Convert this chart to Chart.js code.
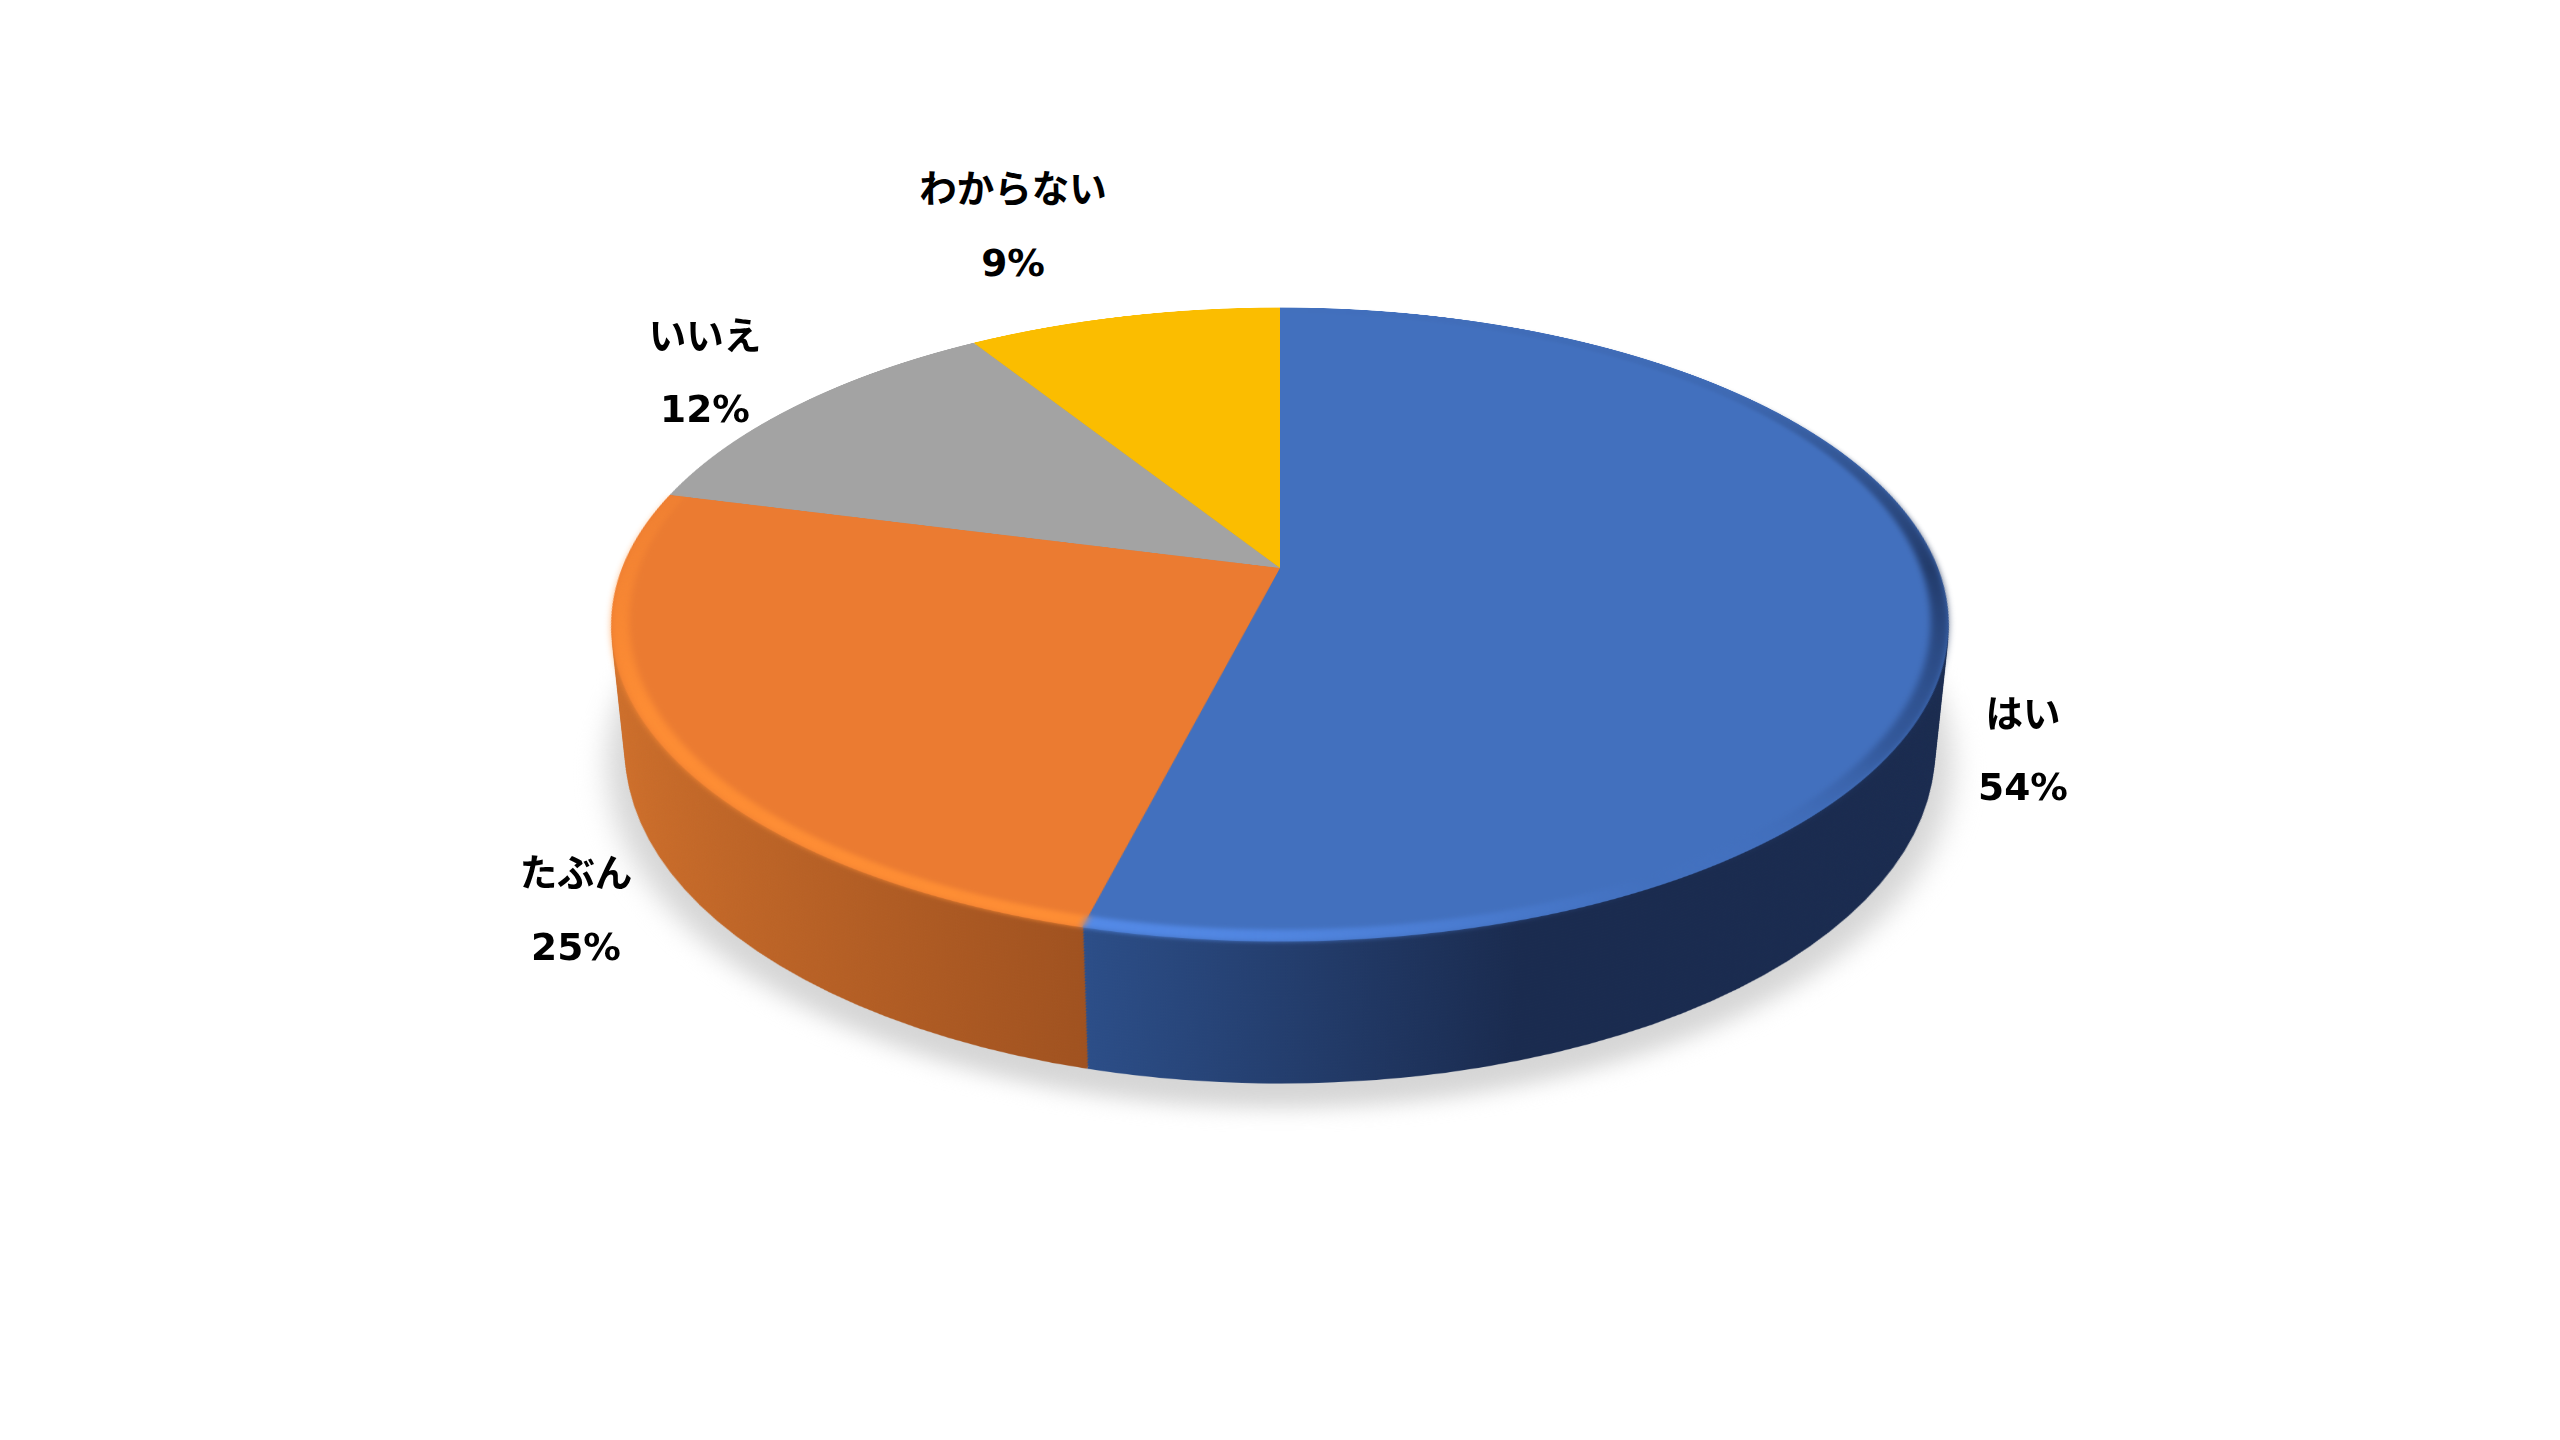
<!DOCTYPE html>
<html lang="ja">
<head>
<meta charset="utf-8">
<title>円グラフ</title>
<script src="https://cdn.jsdelivr.net/npm/chart.js@4"></script>
<style>
  html, body { margin: 0; background: #fff; }
  #stage { position: relative; width: 2560px; height: 1440px; overflow: hidden; background: #fff; }
  #stage canvas { position: absolute; left: 580px; top: -132px; transform-origin: 700px 700px; }
  .lbl { position: absolute; transform: translate(-50%, -50%); line-height: 1; white-space: nowrap;
         font: bold 37.5px "DejaVu Sans", "Noto Sans CJK JP", sans-serif; color: #000; }
</style>
</head>
<body>
<div id="stage"></div>
<script>
// datos
const categorias = ["はい", "たぶん", "いいえ", "わからない"];
const valores = [54, 25, 12, 9];
const coloresTop = ["#4270be", "#eb7b31", "#a3a3a3", "#fbbd00"];

// posicion de las etiquetas en pantalla (centro x, y nombre, y porcentaje)
const etiquetaX = [2023, 576, 705, 1013];
const etiquetaY1 = [710, 869, 332, 185];
const etiquetaY2 = [787, 947, 409, 263];

// geometria de la vista
const SIZE = 1400;
const C = SIZE / 2;
const R = 658;
const DEPTH = 144;
const STEP = 3;
const vista = "perspective(3266px) rotateX(62.2deg)";

const stage = document.getElementById("stage");

function crearPie(z, radio, color, opts) {
  opts = opts || {};
  const canvas = document.createElement("canvas");
  canvas.width = SIZE;
  canvas.height = SIZE;
  canvas.style.width = SIZE + "px";
  canvas.style.height = SIZE + "px";
  canvas.style.transform = vista + " translateZ(" + (-z) + "px)";
  if (opts.filtro) canvas.style.filter = opts.filtro;
  stage.appendChild(canvas);
  return new Chart(canvas, {
    type: opts.tipo || "pie",
    data: {
      labels: categorias,
      datasets: [{ data: valores, backgroundColor: color, borderWidth: 0 }]
    },
    options: {
      responsive: false,
      animation: false,
      devicePixelRatio: opts.dpr || 1,
      radius: radio,
      cutout: opts.cutout || 0,
      events: [],
      plugins: { legend: { display: false }, tooltip: { enabled: false } }
    }
  });
}

// gradiente horizontal de la pared
function degradado(ctx, x0, x1, a, b) {
  const g = ctx.createLinearGradient(C + x0, 0, C + x1, 0);
  g.addColorStop(0, a);
  g.addColorStop(1, b);
  return g;
}

function coloresPared(c) {
  const ctx = c.chart.ctx;
  if (c.dataIndex === 0) return degradado(ctx, -163, 200, "#2c4e88", "#1a2b4f");
  if (c.dataIndex === 1) return degradado(ctx, -640, -163, "#ce6f2b", "#a05220");
  if (c.dataIndex === 2) return "#6e6e6e";
  return "#a67f00";
}

// sombra
crearPie(DEPTH + 12, R + 18, "#d6d6d6", { filtro: "blur(14px)" });

// pared: capas apiladas de abajo hacia arriba
for (let d = DEPTH; d > 0; d -= STEP) {
  crearPie(d, R, coloresPared);
}

// cara superior
crearPie(0, R, coloresTop, { dpr: 2 });

// brillo del borde, por angulo desde arriba en sentido horario
function colorBorde(c) {
  const g = c.chart.ctx.createConicGradient(-Math.PI / 2, C, C);
  g.addColorStop(0, "rgba(30,50,90,0)");
  g.addColorStop(0.14, "rgba(30,50,90,0.1)");
  g.addColorStop(0.25, "rgba(24,42,80,0.75)");
  g.addColorStop(0.34, "rgba(30,55,105,0.4)");
  g.addColorStop(0.42, "rgba(85,140,235,0)");
  g.addColorStop(0.5, "rgba(85,140,235,0.75)");
  g.addColorStop(0.54, "rgba(85,140,235,0.9)");
  g.addColorStop(0.54, "rgba(255,142,52,0.95)");
  g.addColorStop(0.68, "rgba(255,142,52,0.9)");
  g.addColorStop(0.79, "rgba(255,142,52,0.25)");
  g.addColorStop(0.79, "rgba(255,142,52,0)");
  g.addColorStop(1, "rgba(30,50,90,0)");
  return g;
}
crearPie(0, R, colorBorde, { tipo: "doughnut", cutout: "97.4%", filtro: "blur(3px)", dpr: 2 });

// etiquetas
function crearEtiqueta(texto, x, y) {
  const div = document.createElement("div");
  div.className = "lbl";
  div.textContent = texto;
  div.style.left = x + "px";
  div.style.top = y + "px";
  stage.appendChild(div);
}

categorias.forEach((cat, i) => {
  crearEtiqueta(cat, etiquetaX[i], etiquetaY1[i]);
  crearEtiqueta(valores[i] + "%", etiquetaX[i], etiquetaY2[i]);
});
</script>
</body>
</html>
